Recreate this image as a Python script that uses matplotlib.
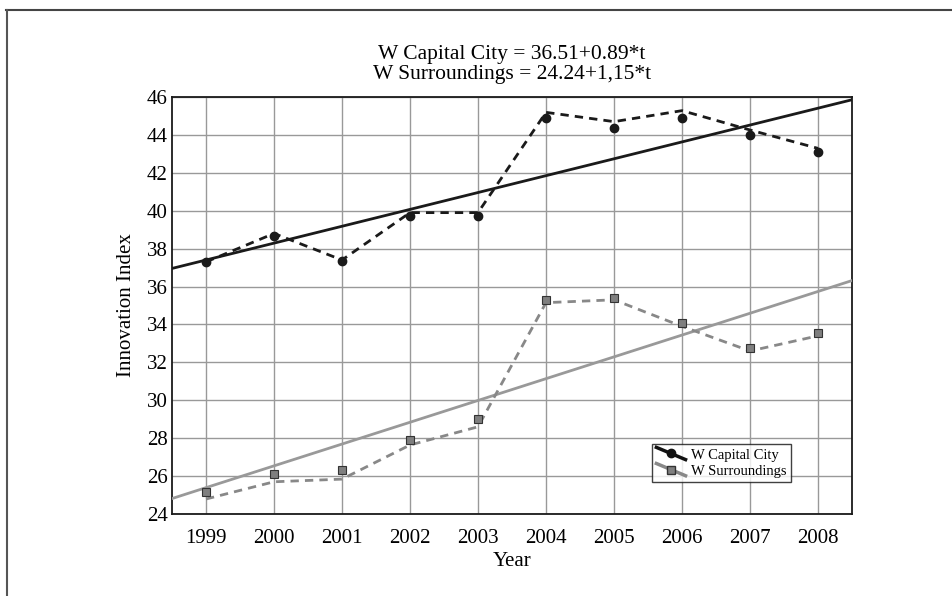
import matplotlib
matplotlib.use("Agg")
import matplotlib.pyplot as plt
from matplotlib.lines import Line2D
from matplotlib.legend_handler import HandlerBase
import numpy as np

plt.rcParams['font.family'] = ['Liberation Serif', 'DejaVu Serif']

years = [1999, 2000, 2001, 2002, 2003, 2004, 2005, 2006, 2007, 2008]
capital_points = [37.28, 38.68, 37.35, 39.72, 39.72, 44.88, 44.38, 44.88, 43.98, 43.08]
capital_line = [37.30, 38.80, 37.40, 39.90, 39.90, 45.19, 44.70, 45.28, 44.26, 43.29]
surr_points = [25.14, 26.12, 26.30, 27.92, 28.99, 35.29, 35.38, 34.06, 32.77, 33.56]
surr_line = [24.79, 25.70, 25.84, 27.64, 28.60, 35.15, 35.30, 33.90, 32.60, 33.40]
cap_a, cap_b = 36.51, 0.89
sur_a, sur_b = 24.24, 1.15
yticks = [24, 26, 28, 30, 32, 34, 36, 38, 40, 42, 44, 46]
title_lines = ['W Capital City = 36.51+0.89*t', 'W Surroundings = 24.24+1,15*t']

fig = plt.figure(figsize=(9.53, 5.96), dpi=100)
ax = fig.add_axes([172/953, 1-514/596, (852-172)/953, (514-97)/596])

# frame lines of the figure (top and left)
fig.add_artist(Line2D([6/953, 1.0], [1-10/596, 1-10/596], color='#444444', lw=1.5, transform=fig.transFigure))
fig.add_artist(Line2D([7/953, 7/953], [0, 1-10/596], color='#555555', lw=1.5, transform=fig.transFigure))

xx = np.array([1998.5, 2008.5])
t = xx - 1998
ax.plot(xx, cap_a + cap_b * t, color='#1a1a1a', lw=2, zorder=3)
ax.plot(xx, sur_a + sur_b * t, color='#999999', lw=2, zorder=3)

ax.plot(years, capital_line, color='#1a1a1a', lw=2, ls=(0, (3, 2.2)), zorder=4)
ax.plot(years, surr_line, color='#888888', lw=2, ls=(0, (3, 2.2)), zorder=4)
ax.plot(years, capital_points, 'o', color='#1a1a1a', ms=6, zorder=5)
ax.plot(years, surr_points, 's', mfc='#7f7f7f', mec='#333333', mew=0.8, ms=6, zorder=5)

ax.set_xlim(1998.5, 2008.5)
ax.set_ylim(24, 46)
ax.set_xticks(years)
ax.set_yticks(yticks)
ax.grid(True, color='#999999', lw=1)
ax.set_axisbelow(True)
ax.tick_params(length=0, labelsize=15)
ax.tick_params(axis='x', pad=11)
ax.tick_params(axis='y', pad=3)
for s in ax.spines.values():
    s.set_color('#1a1a1a')
    s.set_linewidth(1.3)

ax.set_xlabel('Year', fontsize=15, labelpad=3)
ax.set_ylabel('Innovation Index', fontsize=15, labelpad=8)
fig.text(512/953, 1-59/596, title_lines[0], fontsize=15.5, ha='center', va='baseline')
fig.text(512/953, 1-79/596, title_lines[1], fontsize=15.5, ha='center', va='baseline')


class DiagHandler(HandlerBase):
    def __init__(self, color, marker, mfc, mec):
        super().__init__()
        self.c, self.m, self.mfc, self.mec = color, marker, mfc, mec

    def create_artists(self, legend, orig_handle, xdescent, ydescent, width, height, fontsize, trans):
        x0, x1 = -xdescent, -xdescent + width
        y0, y1 = -ydescent + height * 1.1, -ydescent - height * 0.1
        ln = Line2D([x0, x1], [y0, y1], color=self.c, lw=2.5, transform=trans)
        mk = Line2D([(x0 + x1) / 2], [(y0 + y1) / 2], marker=self.m, ls='none', mfc=self.mfc,
                    mec=self.mec, ms=6, transform=trans)
        return [ln, mk]


h1 = Line2D([], [], color='k')
h2 = Line2D([], [], color='gray')
leg = ax.legend([h1, h2], ['W Capital City', 'W Surroundings'],
                handler_map={h1: DiagHandler('#111111', 'o', '#111111', '#111111'),
                             h2: DiagHandler('#888888', 's', '#7f7f7f', '#333333')},
                loc='upper left', bbox_to_anchor=((652-172)/680, (514-444)/417),
                fontsize=10.5, frameon=True, fancybox=False, edgecolor='#111111',
                handlelength=2.0, handletextpad=0.4, borderpad=0.3, labelspacing=0.2,
                borderaxespad=0)
leg.get_frame().set_linewidth(1.0)

fig.savefig('out.png', dpi=100)
